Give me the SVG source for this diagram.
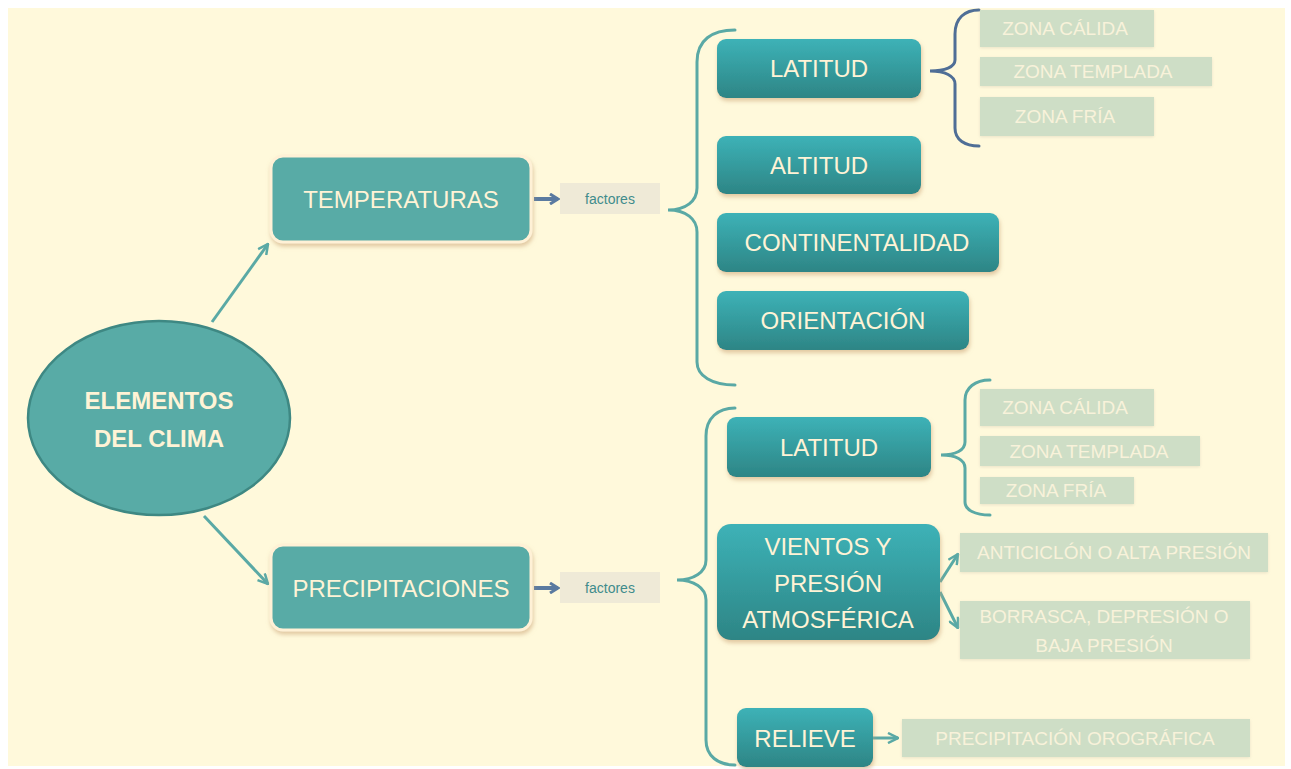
<svg xmlns="http://www.w3.org/2000/svg" width="1291" height="769" viewBox="0 0 1291 769">
<defs>
<linearGradient id="gTeal" x1="0" y1="0" x2="0" y2="1">
<stop offset="0" stop-color="#3DB2B7"/>
<stop offset="1" stop-color="#2D8585"/>
</linearGradient>
<filter id="sh" x="-10%" y="-10%" width="120%" height="130%">
<feDropShadow dx="1" dy="3" stdDeviation="2" flood-color="#C8A070" flood-opacity="0.55"/>
</filter>
<filter id="soft" x="-5%" y="-10%" width="110%" height="120%">
<feDropShadow dx="0" dy="1" stdDeviation="1.5" flood-color="#E0D8C0" flood-opacity="0.7"/>
</filter>
<marker id="arrTealL" viewBox="0 0 12 12" refX="11" refY="6" markerWidth="12" markerHeight="12" orient="auto" markerUnits="userSpaceOnUse">
<path d="M1,1 L11,6 L1,11" fill="none" stroke="#5AA9A5" stroke-width="2.5"/>
</marker>
<marker id="arrBlue" viewBox="0 0 12 12" refX="10" refY="6" markerWidth="12" markerHeight="12" orient="auto" markerUnits="userSpaceOnUse">
<path d="M2,1 L10,6 L2,11" fill="none" stroke="#5B7BA0" stroke-width="3"/>
</marker>
</defs>
<style>
.bg{fill:#FFF9DB}
.main{fill:#58ABA6;stroke:#FFF1D6;stroke-width:3}
.fac{fill:url(#gTeal)}
.lbl{fill:#FFF3D6;font-family:"Liberation Sans",Arial,sans-serif;font-size:24px;text-anchor:middle}
.bold{font-weight:bold}
.fbox{fill:#EFEAD7}
.ftxt{fill:#3F8C8C;font-family:"Liberation Sans",Arial,sans-serif;font-size:14px;text-anchor:middle}
.zone{fill:#CEDEC6}
.ztxt{fill:#F8F2DA;font-family:"Liberation Sans",Arial,sans-serif;font-size:19px;text-anchor:middle}
.brace{fill:none;stroke:#5AA9A5;stroke-width:3;stroke-linecap:round}
.braceB{fill:none;stroke:#4F6E96;stroke-width:3;stroke-linecap:round}
.conn{fill:none;stroke:#5AA9A5;stroke-width:3}
.connB{fill:none;stroke:#5B7BA0;stroke-width:4}
</style>
<rect x="0" y="0" width="1291" height="769" fill="#FFFFFF"/>
<rect class="bg" x="8" y="8" width="1277" height="758"/>

<g id="connectors">
<line class="conn" x1="212" y1="322" x2="268" y2="244" marker-end="url(#arrTealL)"/>
<line class="conn" x1="204" y1="516" x2="268" y2="584" marker-end="url(#arrTealL)"/>
<line class="connB" x1="534" y1="199" x2="558" y2="199" marker-end="url(#arrBlue)"/>
<line class="connB" x1="534" y1="588" x2="558" y2="588" marker-end="url(#arrBlue)"/>
<path class="brace" d="M735,30 C712,30 697,40 697,62 L697,188 C697,201 686,210 668,210 C686,210 697,219 697,232 L697,362 C697,376 712,385 735,385"/>
<path class="braceB" d="M979,10 C965,10 955,18 955,34 L955,60 C955,67 945,71 930,71 C945,71 955,76 955,84 L955,128 C955,140 965,146 979,146"/>
<path class="brace" d="M735,408 C718,408 706,418 706,436 L706,560 C706,572 694,580 677,580 C694,580 706,588 706,600 L706,740 C706,756 718,765 735,765"/>
<path class="brace" d="M990,380 C975,380 965,388 965,400 L965,442 C965,450 956,455 941,455 C956,455 965,460 965,468 L965,502 C965,510 975,515 990,515"/>
<line class="conn" x1="940" y1="582" x2="958" y2="554" marker-end="url(#arrTealL)"/>
<line class="conn" x1="940" y1="592" x2="958" y2="628" marker-end="url(#arrTealL)"/>
<line class="conn" x1="872" y1="738" x2="898" y2="738" marker-end="url(#arrTealL)"/>
</g>

<g id="elementos">
<ellipse cx="159" cy="418" rx="131" ry="97" fill="#58ABA6" stroke="#3E8883" stroke-width="2.5"/>
<text class="lbl bold" x="159" y="409" font-size="25">ELEMENTOS</text>
<text class="lbl bold" x="159" y="447" font-size="25">DEL CLIMA</text>
</g>

<g id="temperaturas">
<rect class="main" x="271" y="156" width="260" height="86" rx="12" filter="url(#sh)"/>
<text class="lbl" x="401" y="208">TEMPERATURAS</text>
</g>
<g id="precipitaciones">
<rect class="main" x="271" y="545" width="260" height="85" rx="12" filter="url(#sh)"/>
<text class="lbl" x="401" y="597">PRECIPITACIONES</text>
</g>

<g id="factores1">
<rect class="fbox" x="560" y="183" width="100" height="31"/>
<text class="ftxt" x="610" y="204">factores</text>
</g>
<g id="factores2">
<rect class="fbox" x="560" y="572" width="100" height="31"/>
<text class="ftxt" x="610" y="593">factores</text>
</g>

<g id="latitud1">
<rect class="fac" x="717" y="39" width="204" height="59" rx="9" filter="url(#sh)"/>
<text class="lbl" x="819" y="77">LATITUD</text>
</g>
<g id="altitud">
<rect class="fac" x="717" y="136" width="204" height="58" rx="9" filter="url(#sh)"/>
<text class="lbl" x="819" y="174">ALTITUD</text>
</g>
<g id="continentalidad">
<rect class="fac" x="717" y="213" width="282" height="59" rx="9" filter="url(#sh)"/>
<text class="lbl" x="857" y="251">CONTINENTALIDAD</text>
</g>
<g id="orientacion">
<rect class="fac" x="717" y="291" width="252" height="59" rx="9" filter="url(#sh)"/>
<text class="lbl" x="843" y="329">ORIENTACIÓN</text>
</g>

<g id="zcalida1">
<rect class="zone" x="980" y="10" width="174" height="37" filter="url(#soft)"/>
<text class="ztxt" x="1065" y="35">ZONA CÁLIDA</text>
</g>
<g id="ztemplada1">
<rect class="zone" x="980" y="57" width="232" height="29" filter="url(#soft)"/>
<text class="ztxt" x="1093" y="78">ZONA TEMPLADA</text>
</g>
<g id="zfria1">
<rect class="zone" x="980" y="97" width="174" height="39" filter="url(#soft)"/>
<text class="ztxt" x="1065" y="123">ZONA FRÍA</text>
</g>

<g id="latitud2">
<rect class="fac" x="727" y="417" width="204" height="60" rx="9" filter="url(#sh)"/>
<text class="lbl" x="829" y="456">LATITUD</text>
</g>
<g id="vientos">
<rect class="fac" x="717" y="524" width="223" height="116" rx="14" filter="url(#sh)"/>
<text class="lbl" x="828" y="555">VIENTOS Y</text>
<text class="lbl" x="828" y="592">PRESIÓN</text>
<text class="lbl" x="828" y="628">ATMOSFÉRICA</text>
</g>
<g id="relieve">
<rect class="fac" x="737" y="708" width="136" height="59" rx="9" filter="url(#sh)"/>
<text class="lbl" x="805" y="747">RELIEVE</text>
</g>

<g id="zcalida2">
<rect class="zone" x="980" y="389" width="174" height="37" filter="url(#soft)"/>
<text class="ztxt" x="1065" y="414">ZONA CÁLIDA</text>
</g>
<g id="ztemplada2">
<rect class="zone" x="980" y="436" width="220" height="30" filter="url(#soft)"/>
<text class="ztxt" x="1089" y="458">ZONA TEMPLADA</text>
</g>
<g id="zfria2">
<rect class="zone" x="980" y="477" width="154" height="27" filter="url(#soft)"/>
<text class="ztxt" x="1056" y="497">ZONA FRÍA</text>
</g>

<g id="anticiclon">
<rect class="zone" x="960" y="533" width="308" height="39" filter="url(#soft)"/>
<text class="ztxt" x="1114" y="559">ANTICICLÓN O ALTA PRESIÓN</text>
</g>
<g id="borrasca">
<rect class="zone" x="960" y="601" width="290" height="58" filter="url(#soft)"/>
<text class="ztxt" x="1104" y="623">BORRASCA, DEPRESIÓN O</text>
<text class="ztxt" x="1104" y="652">BAJA PRESIÓN</text>
</g>
<g id="orografica">
<rect class="zone" x="902" y="719" width="348" height="38" filter="url(#soft)"/>
<text class="ztxt" x="1075" y="745">PRECIPITACIÓN OROGRÁFICA</text>
</g>
</svg>
